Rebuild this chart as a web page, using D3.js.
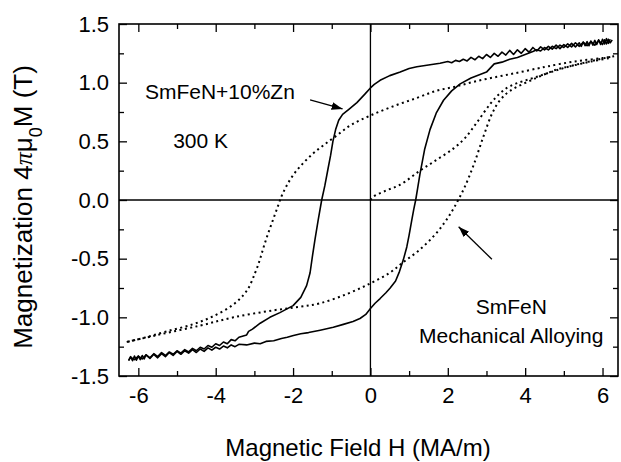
<!DOCTYPE html>
<html>
<head>
<meta charset="utf-8">
<script src="https://cdn.jsdelivr.net/npm/d3@7"></script>
<style>
body { margin: 0; background: #fff; }
text { font-family: "Liberation Sans", Arial, Helvetica, sans-serif; fill: #000; }
</style>
</head>
<body>
<div id="chart"></div>
<script>
// tick values and labels
var xMajor = [-6, -4, -2, 0, 2, 4, 6];
var xMinor = [-5, -3, -1, 1, 3, 5];
var xLabels = ["-6", "-4", "-2", "0", "2", "4", "6"];
var yMajor = [-1.5, -1, -0.5, 0, 0.5, 1, 1.5];
var yMinor = [-1.25, -0.75, -0.25, 0.25, 0.75, 1.25];
var yLabels = ["-1.5", "-1.0", "-0.5", "0.0", "0.5", "1.0", "1.5"];

// SmFeN+10%Zn, field decreasing [H, M]
var solidDown = [
  [6.2,1.37],[6.15,1.335],[6.1,1.375],[6.05,1.33],[6.0,1.37],[5.95,1.325],[5.9,1.365],[5.85,1.325],
  [5.8,1.36],[5.75,1.32],[5.7,1.355],[5.65,1.315],[5.6,1.35],[5.55,1.315],[5.5,1.345],[5.45,1.31],
  [5.4,1.34],[5.3,1.305],[5.2,1.335],[5.1,1.3],[5.0,1.325],[4.9,1.29],[4.8,1.32],[4.7,1.285],
  [4.6,1.31],[4.5,1.28],[4.4,1.305],[4.3,1.27],[4.2,1.3],[4.1,1.26],[4.0,1.29],[3.9,1.25],
  [3.8,1.28],[3.7,1.24],[3.6,1.275],[3.5,1.235],[3.4,1.26],[3.3,1.225],[3.2,1.25],[3.1,1.215],
  [3.0,1.24],[2.9,1.205],[2.8,1.225],[2.7,1.195],[2.6,1.215],[2.5,1.185],[2.4,1.2],[2.3,1.18],
  [2.2,1.19],[2.1,1.17],[2.0,1.18],[1.8,1.165],[1.5,1.15],[1.2,1.135],[1.0,1.12],[0.77,1.09],
  [0.5,1.06],[0.25,1.02],[0.1,0.985],[0.0,0.955],[-0.15,0.9],[-0.35,0.83],[-0.55,0.775],
  [-0.72,0.73],[-0.82,0.68],[-0.9,0.6],[-0.97,0.5],[-1.03,0.38],[-1.1,0.26],[-1.18,0.12],
  [-1.26,0.0],[-1.35,-0.17],[-1.43,-0.33],[-1.5,-0.48],[-1.56,-0.62],[-1.65,-0.73],[-1.8,-0.83],
  [-2.0,-0.9],[-2.34,-0.96],[-2.6,-1.0],[-2.85,-1.05],[-3.05,-1.1],[-3.15,-1.12],[-3.2,-1.15],
  [-3.4,-1.17],[-3.5,-1.2],[-3.6,-1.19],[-3.7,-1.225],[-3.8,-1.21],[-3.9,-1.24],[-4.0,-1.225],
  [-4.1,-1.255],[-4.2,-1.24],[-4.3,-1.27],[-4.4,-1.255],[-4.5,-1.285],[-4.6,-1.265],[-4.7,-1.295],
  [-4.8,-1.275],[-4.9,-1.305],[-5.0,-1.285],[-5.1,-1.315],[-5.2,-1.295],[-5.3,-1.325],[-5.4,-1.3],
  [-5.5,-1.335],[-5.6,-1.31],[-5.7,-1.345],[-5.8,-1.32],[-5.9,-1.355],[-6.0,-1.33],[-6.1,-1.36],
  [-6.2,-1.34],[-6.25,-1.365]
];

// SmFeN+10%Zn, field increasing
var solidUp = [
  [-6.25,-1.37],[-6.2,-1.335],[-6.15,-1.37],[-6.1,-1.33],[-6.05,-1.365],[-6.0,-1.33],[-5.95,-1.36],
  [-5.9,-1.325],[-5.85,-1.355],[-5.8,-1.32],[-5.7,-1.35],[-5.6,-1.315],[-5.5,-1.345],[-5.4,-1.31],
  [-5.3,-1.335],[-5.2,-1.3],[-5.1,-1.325],[-5.0,-1.29],[-4.9,-1.315],[-4.8,-1.285],[-4.7,-1.305],
  [-4.6,-1.275],[-4.5,-1.3],[-4.4,-1.27],[-4.3,-1.29],[-4.2,-1.26],[-4.1,-1.28],[-4.0,-1.255],
  [-3.9,-1.27],[-3.8,-1.245],[-3.7,-1.26],[-3.6,-1.235],[-3.5,-1.25],[-3.4,-1.23],[-3.2,-1.235],
  [-3.0,-1.22],[-2.85,-1.225],[-2.7,-1.205],[-2.5,-1.2],[-2.3,-1.18],[-2.15,-1.17],[-1.99,-1.155],
  [-1.8,-1.14],[-1.6,-1.13],[-1.3,-1.11],[-0.96,-1.085],[-0.7,-1.06],[-0.45,-1.035],[-0.27,-1.01],
  [-0.12,-0.975],[0.0,-0.925],[0.12,-0.88],[0.25,-0.84],[0.4,-0.79],[0.51,-0.75],[0.65,-0.69],
  [0.75,-0.61],[0.85,-0.51],[0.94,-0.4],[1.0,-0.3],[1.07,-0.17],[1.12,-0.08],[1.17,0.0],[1.22,0.1],
  [1.28,0.22],[1.4,0.43],[1.54,0.6],[1.7,0.74],[1.89,0.85],[2.1,0.93],[2.32,0.99],[2.6,1.04],
  [3.0,1.09],[3.2,1.16],[3.4,1.175],[3.6,1.2],[3.8,1.215],[4.0,1.24],[4.2,1.265],[4.3,1.28],
  [4.4,1.27],[4.5,1.3],[4.6,1.28],[4.7,1.31],[4.8,1.29],[4.9,1.32],[5.0,1.3],[5.1,1.33],[5.2,1.305],
  [5.3,1.34],[5.4,1.31],[5.5,1.345],[5.6,1.315],[5.7,1.35],[5.8,1.32],[5.9,1.36],[6.0,1.325],
  [6.05,1.365],[6.1,1.33],[6.15,1.37],[6.2,1.34],[6.25,1.365]
];

// SmFeN mechanical alloying, field decreasing
var dotDown = [
  [6.3,1.225],[6.0,1.21],[5.5,1.19],[5.08,1.17],[4.6,1.14],[4.3,1.12],[3.8,1.085],[3.27,1.05],
  [2.7,1.01],[2.19,0.966],[1.7,0.93],[1.2,0.87],[0.6,0.8],[0.0,0.72],[-0.5,0.64],[-0.87,0.55],
  [-1.2,0.47],[-1.47,0.4],[-1.75,0.31],[-1.98,0.22],[-2.17,0.12],[-2.3,0.03],[-2.4,-0.06],
  [-2.52,-0.17],[-2.65,-0.29],[-2.76,-0.4],[-2.86,-0.51],[-2.98,-0.62],[-3.19,-0.77],[-3.54,-0.89],
  [-4.06,-0.99],[-4.6,-1.06],[-5.27,-1.12],[-5.8,-1.17],[-6.3,-1.21]
];

// SmFeN mechanical alloying, field increasing
var dotUp = [
  [-6.3,-1.21],[-5.5,-1.15],[-4.4,-1.07],[-3.54,-1.0],[-2.5,-0.94],[-1.82,-0.91],[-1.3,-0.88],
  [-0.6,-0.8],[0.0,-0.71],[0.5,-0.62],[0.85,-0.53],[1.25,-0.43],[1.63,-0.31],[1.9,-0.2],
  [2.1,-0.1],[2.27,0.0],[2.45,0.12],[2.67,0.3],[2.92,0.54],[3.15,0.74],[3.35,0.85],
  [3.61,0.93],[4.22,1.03],[4.8,1.11],[5.16,1.14],[5.7,1.18],[6.2,1.21]
];

// SmFeN mechanical alloying, initial curve from the origin
var dotVirgin = [
  [0.0,0.0],[0.08,0.03],[0.4,0.08],[0.77,0.13],[1.28,0.25],[1.7,0.34],[2.15,0.44],[2.45,0.53],
  [2.75,0.66],[3.1,0.82],[3.35,0.91],[3.61,0.97],[4.3,1.05],[5.16,1.14],[6.2,1.22]
];

// arrows [H1, M1, H2, M2], head at the second point
var arrows = [[-1.56, 0.853, -0.72, 0.776], [3.14, -0.505, 2.28, -0.228]];

var width = 621;
var height = 462;

var svg = d3.select("#chart")
    .append("svg")
    .attr("width", width)
    .attr("height", height);

var x = d3.scaleLinear().domain([-6.5, 6.4]).range([119, 618]);
var y = d3.scaleLinear().domain([-1.5, 1.5]).range([376, 24]);

svg.append("defs").append("marker")
    .attr("id", "head")
    .attr("viewBox", "0 0 10 10")
    .attr("refX", 10)
    .attr("refY", 5)
    .attr("markerWidth", 11)
    .attr("markerHeight", 11)
    .attr("markerUnits", "userSpaceOnUse")
    .attr("orient", "auto")
    .append("path")
    .attr("d", "M0,1.5L10,5L0,8.5Z")
    .attr("fill", "#000");

// axes, ticks inward on all four sides
function styleAxis(g) {
    g.select(".domain").remove();
    g.selectAll(".tick line").attr("stroke", "#000").attr("stroke-width", 1.3);
    g.selectAll("text").attr("font-size", 22).attr("font-family", null).attr("fill", "#000");
}

svg.append("g")
    .attr("transform", "translate(0," + y(-1.5) + ")")
    .call(d3.axisBottom(x).tickValues(xMajor).tickSize(-8).tickPadding(11)
        .tickFormat(function(d, i) { return xLabels[i]; }))
    .call(styleAxis);
svg.append("g")
    .attr("transform", "translate(0," + y(-1.5) + ")")
    .call(d3.axisBottom(x).tickValues(xMinor).tickSize(-5).tickFormat(""))
    .call(styleAxis);
svg.append("g")
    .attr("transform", "translate(0," + y(1.5) + ")")
    .call(d3.axisTop(x).tickValues(xMajor).tickSize(-8).tickFormat(""))
    .call(styleAxis);
svg.append("g")
    .attr("transform", "translate(0," + y(1.5) + ")")
    .call(d3.axisTop(x).tickValues(xMinor).tickSize(-5).tickFormat(""))
    .call(styleAxis);

svg.append("g")
    .attr("transform", "translate(" + x(-6.5) + ",0)")
    .call(d3.axisLeft(y).tickValues(yMajor).tickSize(-8).tickPadding(10)
        .tickFormat(function(d, i) { return yLabels[i]; }))
    .call(styleAxis);
svg.append("g")
    .attr("transform", "translate(" + x(-6.5) + ",0)")
    .call(d3.axisLeft(y).tickValues(yMinor).tickSize(-5).tickFormat(""))
    .call(styleAxis);
svg.append("g")
    .attr("transform", "translate(" + x(6.4) + ",0)")
    .call(d3.axisRight(y).tickValues(yMajor).tickSize(-8).tickFormat(""))
    .call(styleAxis);
svg.append("g")
    .attr("transform", "translate(" + x(6.4) + ",0)")
    .call(d3.axisRight(y).tickValues(yMinor).tickSize(-5).tickFormat(""))
    .call(styleAxis);

// frame
svg.append("rect")
    .attr("x", x(-6.5))
    .attr("y", y(1.5))
    .attr("width", x(6.4) - x(-6.5))
    .attr("height", y(-1.5) - y(1.5))
    .attr("fill", "none")
    .attr("stroke", "#000")
    .attr("stroke-width", 1.6);

// zero lines
svg.append("line")
    .attr("x1", x(-6.5)).attr("x2", x(6.4))
    .attr("y1", y(0)).attr("y2", y(0))
    .attr("stroke", "#000").attr("stroke-width", 1.3);
svg.append("line")
    .attr("x1", x(0)).attr("x2", x(0))
    .attr("y1", y(-1.5)).attr("y2", y(1.5))
    .attr("stroke", "#000").attr("stroke-width", 1.3);

var line = d3.line()
    .x(function(d) { return x(d[0]); })
    .y(function(d) { return y(d[1]); });

var smooth = d3.line()
    .curve(d3.curveCatmullRom.alpha(0.5))
    .x(function(d) { return x(d[0]); })
    .y(function(d) { return y(d[1]); });

[solidDown, solidUp].forEach(function(s) {
    svg.append("path")
        .attr("d", line(s))
        .attr("fill", "none")
        .attr("stroke", "#000")
        .attr("stroke-width", 1.6)
        .attr("stroke-linejoin", "round");
});

[dotDown, dotUp, dotVirgin].forEach(function(s) {
    svg.append("path")
        .attr("d", smooth(s))
        .attr("fill", "none")
        .attr("stroke", "#000")
        .attr("stroke-width", 2)
        .attr("stroke-dasharray", "2,3.4");
});

arrows.forEach(function(a) {
    svg.append("line")
        .attr("x1", x(a[0])).attr("y1", y(a[1]))
        .attr("x2", x(a[2])).attr("y2", y(a[3]))
        .attr("stroke", "#000")
        .attr("stroke-width", 1.3)
        .attr("marker-end", "url(#head)");
});

// annotations
svg.append("text")
    .attr("x", x(-5.83)).attr("y", y(0.861))
    .attr("font-size", 21)
    .text("SmFeN+10%Zn");
svg.append("text")
    .attr("x", x(-5.1)).attr("y", y(0.443))
    .attr("font-size", 21)
    .text("300 K");
svg.append("text")
    .attr("x", x(3.64)).attr("y", y(-0.97))
    .attr("font-size", 21)
    .attr("text-anchor", "middle")
    .text("SmFeN");
svg.append("text")
    .attr("x", x(3.64)).attr("y", y(-1.217))
    .attr("font-size", 21)
    .attr("text-anchor", "middle")
    .text("Mechanical Alloying");

// axis titles
svg.append("text")
    .attr("x", 358)
    .attr("y", 456)
    .attr("font-size", 24)
    .attr("text-anchor", "middle")
    .text("Magnetic Field H (MA/m)");

var yt = svg.append("text")
    .attr("transform", "translate(32,207) rotate(-90)")
    .attr("font-size", 26)
    .attr("text-anchor", "middle");
yt.append("tspan").text("Magnetization 4");
yt.append("tspan").attr("font-family", "'Liberation Serif', serif").attr("font-style", "italic").text("π");
yt.append("tspan").text("μ");
yt.append("tspan").attr("baseline-shift", "sub").attr("font-size", 18).text("0");
yt.append("tspan").text("M (T)");
</script>
</body>
</html>
